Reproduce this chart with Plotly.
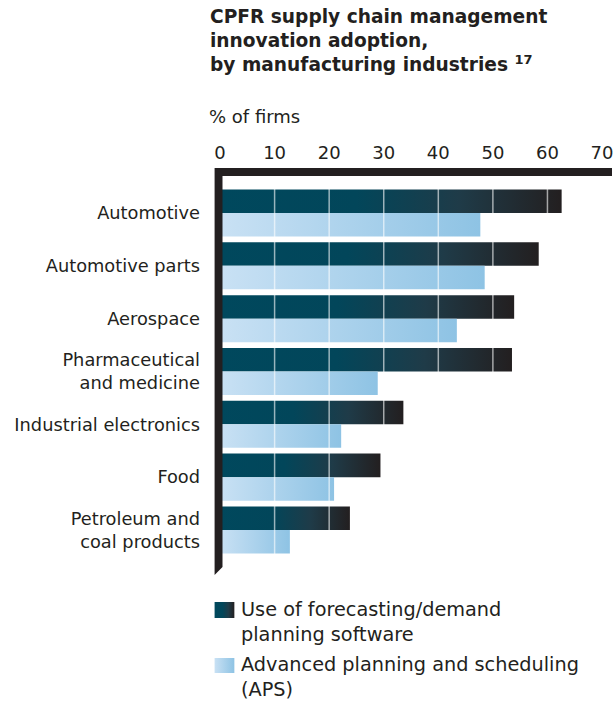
import plotly.graph_objects as go

# --- data -------------------------------------------------------------
categories = [
    "Automotive",
    "Automotive parts",
    "Aerospace",
    "Pharmaceutical<br>and medicine",
    "Industrial electronics",
    "Food",
    "Petroleum and<br>coal products",
]
forecasting = [62.6, 58.4, 53.9, 53.5, 33.6, 29.4, 23.8]   # forecasting/demand planning software
aps = [47.7, 48.5, 43.4, 28.9, 22.2, 20.9, 12.8]           # advanced planning and scheduling
x_ticks = [0, 10, 20, 30, 40, 50, 60, 70]

series_names = [
    "Use of forecasting/demand<br>planning software",
    "Advanced planning and scheduling<br>(APS)",
]

# --- styling ----------------------------------------------------------
W, H = 613, 707
FONT = "DejaVu Sans"
INK = "#231f20"
DARK_SCALE = [[0, "#00485d"], [0.4, "#02465a"], [0.7, "#1f3b48"], [1, "#231f20"]]
LIGHT_SCALE = [[0, "#c9e1f4"], [1, "#8ec3e4"]]
HALF = 0.445  # thickness of each bar in category units

# pixel helpers for paper-referenced items (figure has no margins)
def px(x):
    return x / W

def py(y):
    return 1 - y / H

X0_PX = 216.5          # pixel of value 0
PX_PER_UNIT = 5.52
PLOT_TOP, PLOT_BOT = 176, 574
PX_PER_CAT = 52.83

fig = go.Figure()

def bar_polygon(value, y_lo, y_hi):
    return [0, value, value, 0, 0], [y_lo, y_lo, y_hi, y_hi, y_lo]

for i, (f, a) in enumerate(zip(forecasting, aps)):
    xs, ys = bar_polygon(f, i - HALF, i)
    fig.add_trace(go.Scatter(
        x=xs, y=ys, mode="lines", line=dict(width=0), fill="toself",
        fillgradient=dict(type="horizontal", colorscale=DARK_SCALE),
        hoverinfo="skip", showlegend=False, xaxis="x", yaxis="y"))
    xs, ys = bar_polygon(a, i, i + HALF)
    fig.add_trace(go.Scatter(
        x=xs, y=ys, mode="lines", line=dict(width=0), fill="toself",
        fillgradient=dict(type="horizontal", colorscale=LIGHT_SCALE),
        hoverinfo="skip", showlegend=False, xaxis="x", yaxis="y"))

# legend swatches, on a pixel-scaled helper axis
for (x0, y0, y1), scale in [((211, 602, 618), DARK_SCALE), ((211, 658, 673), LIGHT_SCALE)]:
    fig.add_trace(go.Scatter(
        x=[x0, x0 + 20, x0 + 20, x0, x0], y=[y0, y0, y1, y1, y0],
        mode="lines", line=dict(width=0), fill="toself",
        fillgradient=dict(type="horizontal", colorscale=scale),
        hoverinfo="skip", showlegend=False, xaxis="x2", yaxis="y2"))

top_units = 0.70
bot_units = (PLOT_BOT - PLOT_TOP) / PX_PER_CAT - top_units

fig.update_layout(
    width=W, height=H,
    margin=dict(l=0, r=0, t=0, b=0),
    paper_bgcolor="white",
    plot_bgcolor="rgba(0,0,0,0)",
    font=dict(family=FONT, color=INK),
    xaxis=dict(
        domain=[px(X0_PX), 1],
        range=[0, (W - X0_PX) / PX_PER_UNIT],
        side="top", tickvals=x_ticks, ticktext=[str(t) for t in x_ticks],
        tickfont=dict(size=18, color=INK), ticks="", showgrid=False,
        zeroline=False, showline=False, ticklabelstandoff=12,
        ticklabeloverflow="allow", anchor="y", fixedrange=True,
    ),
    yaxis=dict(
        domain=[py(PLOT_BOT), py(PLOT_TOP)],
        range=[bot_units, -top_units],
        tickvals=list(range(len(categories))), ticktext=categories,
        tickfont=dict(size=17.8, color=INK), ticks="", showgrid=False,
        zeroline=False, showline=False, ticklabelstandoff=19,
        anchor="x", fixedrange=True,
    ),
    xaxis2=dict(domain=[0, 1], range=[0, W], visible=False, anchor="y2", fixedrange=True),
    yaxis2=dict(domain=[0, 1], range=[H, 0], visible=False, anchor="x2", fixedrange=True),
    showlegend=False,
)

# white value lines running through the bars
for t in x_ticks[1:-1]:
    fig.add_shape(type="line", xref="x", yref="y domain", x0=t, x1=t, y0=0, y1=1,
                  line=dict(color="rgba(255,255,255,0.6)", width=1.5), layer="above")

# heavy frame along the top and left edges
frame = (f"M {px(211)} {py(168)} L {px(613)} {py(168)} L {px(613)} {py(176)} "
         f"L {px(219)} {py(176)} L {px(219)} {py(567)} L {px(211)} {py(575)} Z")
fig.add_shape(type="path", xref="paper", yref="paper", path=frame,
              fillcolor=INK, line=dict(width=0), layer="above")

# title and unit label
fig.add_annotation(
    xref="paper", yref="paper", x=px(204), y=py(4), xanchor="left", yanchor="top",
    align="left", showarrow=False,
    text="<b>CPFR supply chain management<br>innovation adoption,<br>"
         "by manufacturing industries <sup>17</sup></b>",
    font=dict(size=18.6, color=INK, family=FONT))
fig.add_annotation(
    xref="paper", yref="paper", x=px(203), y=py(116), xanchor="left", yanchor="middle",
    showarrow=False, text="% of firms", font=dict(size=18, color=INK, family=FONT))

# legend labels
for label, yc in zip(series_names, [622, 677]):
    fig.add_annotation(
        xref="paper", yref="paper", x=px(236), y=py(yc), xanchor="left", yanchor="middle",
        align="left", showarrow=False, text=label,
        font=dict(size=19.3, color=INK, family=FONT))

fig.write_html("out.html")
